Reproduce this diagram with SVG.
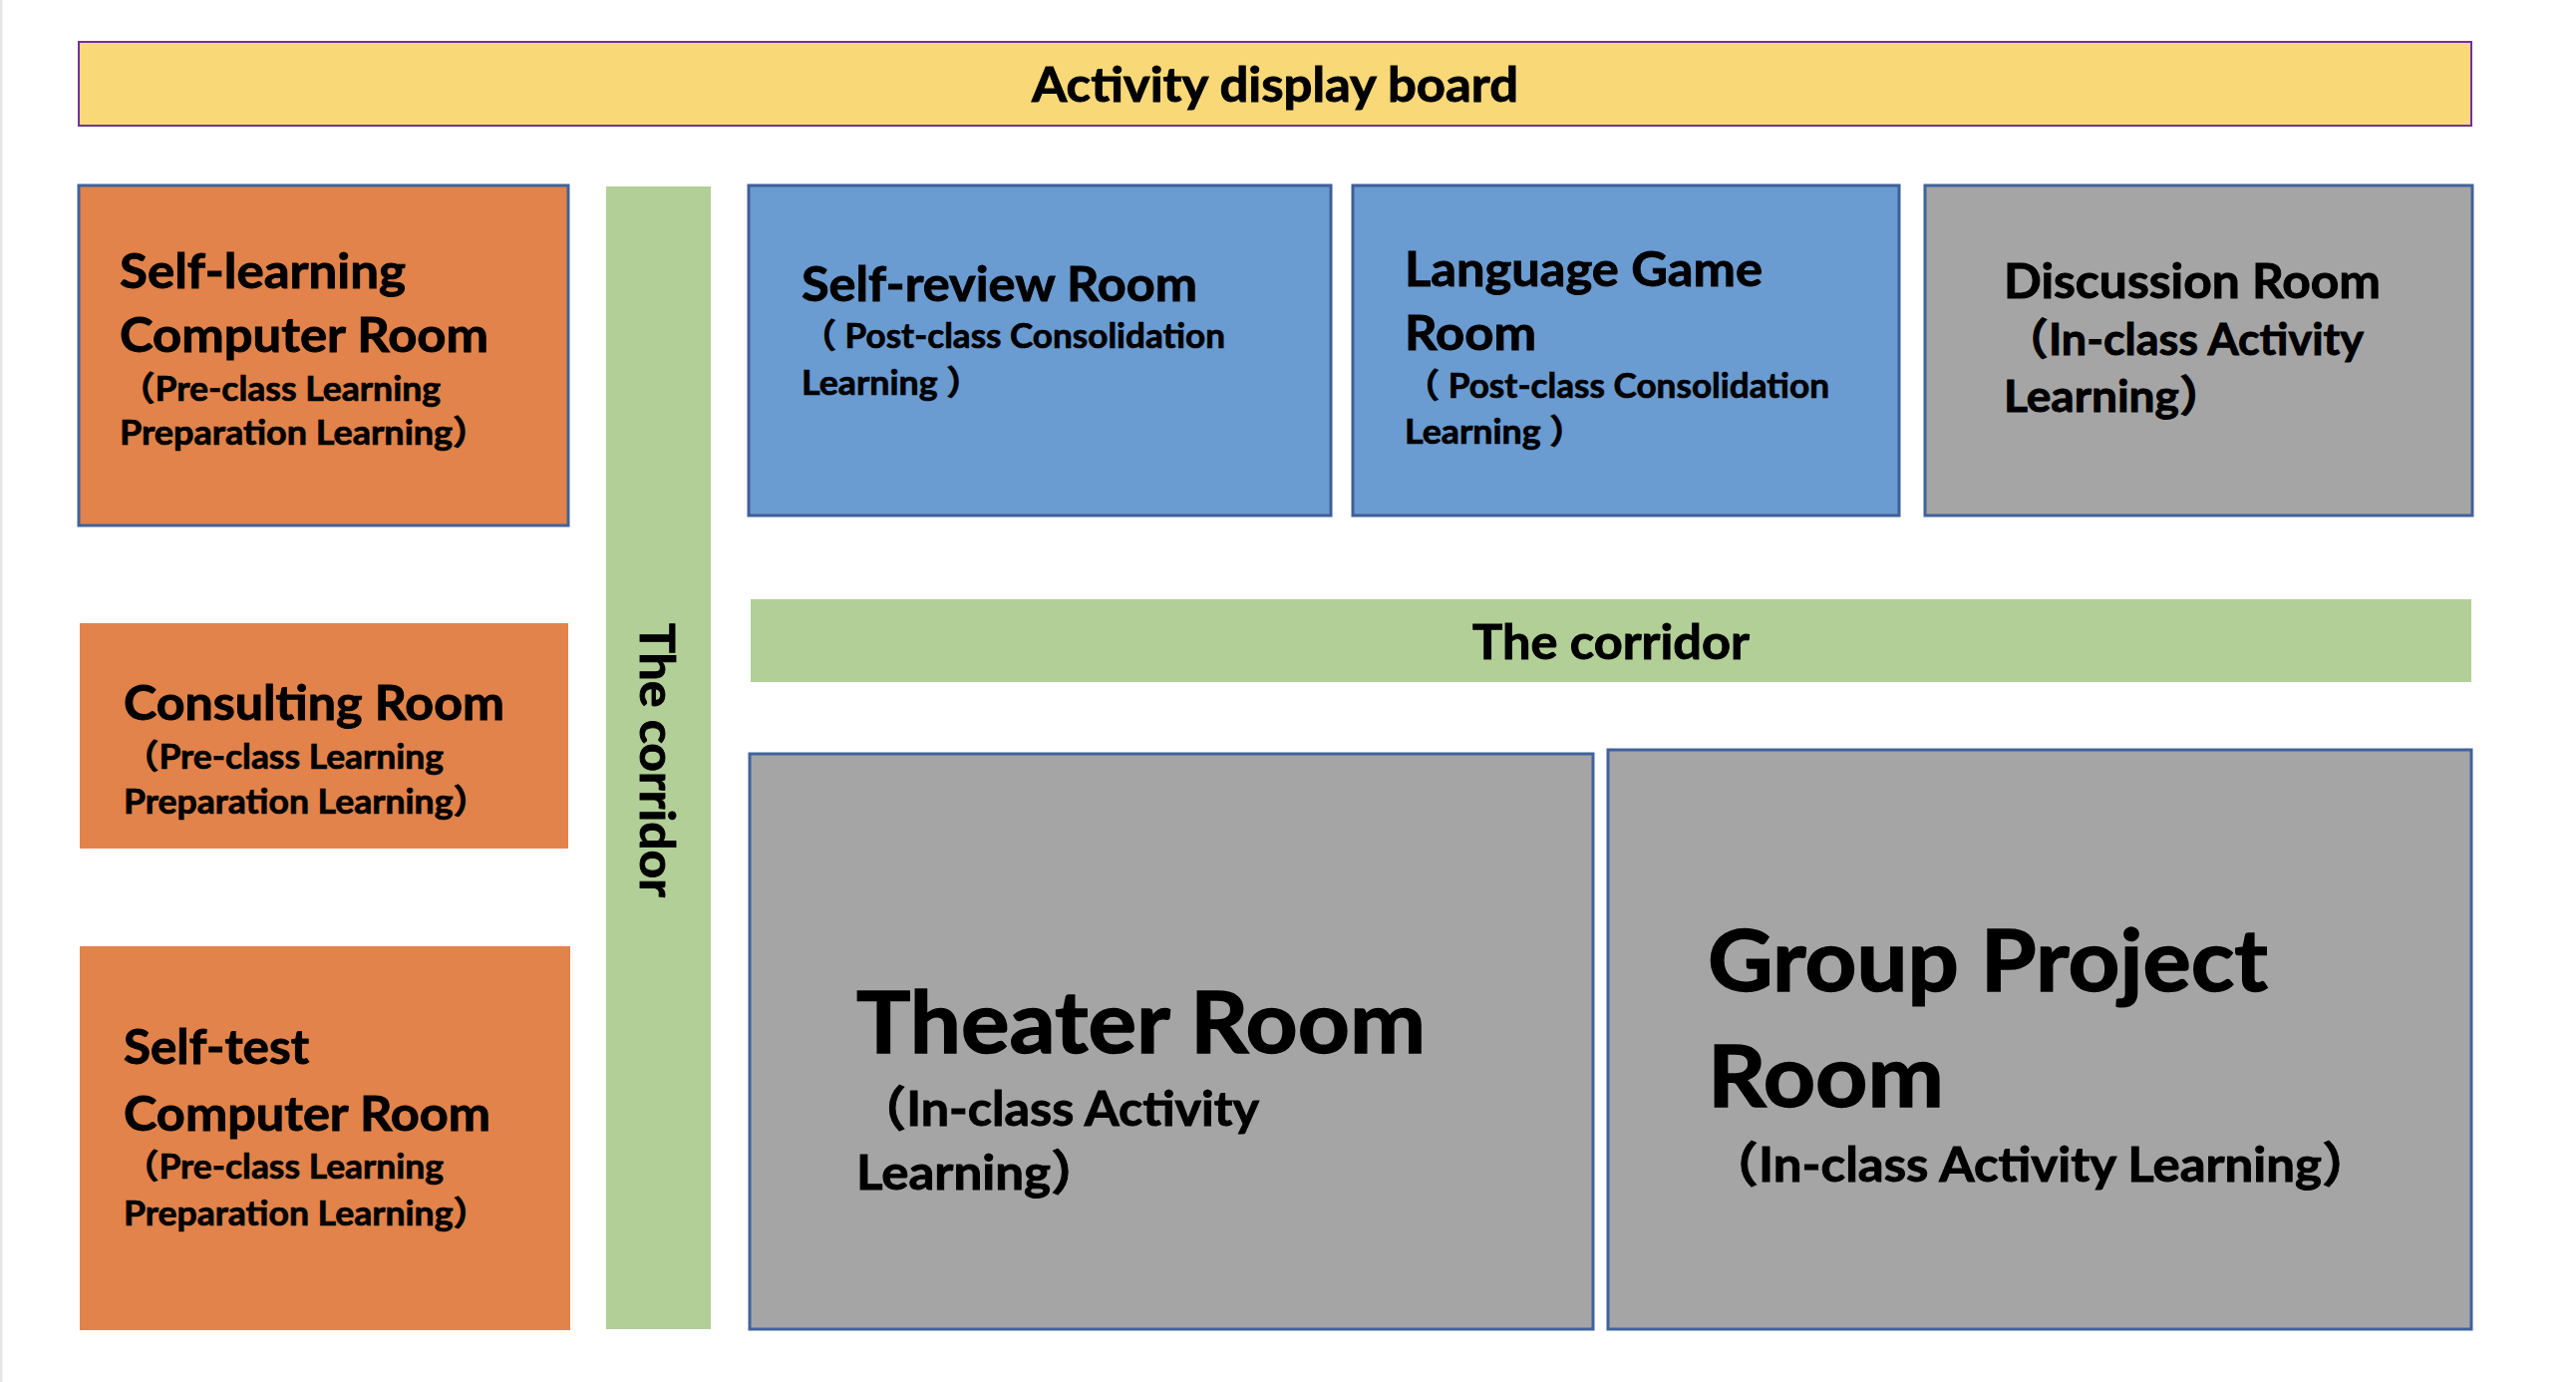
<svg xmlns="http://www.w3.org/2000/svg" width="2584" height="1386" viewBox="0 0 2584 1386">
<style>
.t{font-family:Lato,"Noto Sans CJK SC",sans-serif;font-weight:700;fill:#000;stroke:#000;stroke-width:0.9px}
.h1{font-size:48px}
.h2{font-size:33.6px;stroke-width:0.7px}
.h3{font-size:43.2px}
.big{font-size:86.4px;stroke-width:1.4px}
.orange{fill:#E1834A}
.bord{stroke:#41629C;stroke-width:3}
.blue{fill:#6A9BD1;stroke:#3F5F98;stroke-width:3}
.gray{fill:#A5A5A5;stroke:#41629C;stroke-width:3}
.green{fill:#B2CF97}
.board{fill:#F9D878;stroke:#7030A0;stroke-width:2}
</style>
<rect width="2584" height="1386" fill="#fff"/>
<rect x="0" y="0" width="2.5" height="1386" fill="#E6E6E6"/>

<g id="activity-board">
<rect class="board" x="79" y="42" width="2400" height="84"/>
<text class="t h1" x="1279" y="102" text-anchor="middle" textLength="488" lengthAdjust="spacingAndGlyphs">Activity display board</text>
</g>

<g id="self-learning-computer-room">
<rect class="orange bord" x="79" y="186" width="491" height="341"/>
<text class="t h1" x="120" y="289" textLength="287" lengthAdjust="spacingAndGlyphs">Self-learning</text>
<text class="t h1" x="120" y="353" textLength="370" lengthAdjust="spacingAndGlyphs">Computer Room</text>
<text class="t h2" x="120" y="402" textLength="322" lengthAdjust="spacingAndGlyphs">（Pre-class Learning</text>
<text class="t h2" x="120" y="446" textLength="370" lengthAdjust="spacingAndGlyphs">Preparation Learning）</text>
</g>

<g id="vertical-corridor">
<rect class="green" x="608" y="187" width="105" height="1146"/>
<text class="t h1" transform="translate(642,625) rotate(90)" x="0" y="0" textLength="275" lengthAdjust="spacingAndGlyphs">The corridor</text>
</g>

<g id="consulting-room">
<rect class="orange" x="80" y="625" width="490" height="226"/>
<text class="t h1" x="124" y="722" textLength="382" lengthAdjust="spacingAndGlyphs">Consulting Room</text>
<text class="t h2" x="124" y="771" textLength="321" lengthAdjust="spacingAndGlyphs">（Pre-class Learning</text>
<text class="t h2" x="124" y="816" textLength="366" lengthAdjust="spacingAndGlyphs">Preparation Learning）</text>
</g>

<g id="self-test-computer-room">
<rect class="orange" x="80" y="949" width="492" height="385"/>
<text class="t h1" x="124" y="1067" textLength="186" lengthAdjust="spacingAndGlyphs">Self-test</text>
<text class="t h1" x="124" y="1134" textLength="368" lengthAdjust="spacingAndGlyphs">Computer Room</text>
<text class="t h2" x="124" y="1182" textLength="321" lengthAdjust="spacingAndGlyphs">（Pre-class Learning</text>
<text class="t h2" x="124" y="1229" textLength="366" lengthAdjust="spacingAndGlyphs">Preparation Learning）</text>
</g>

<g id="self-review-room">
<rect class="blue" x="751" y="186" width="584" height="331"/>
<text class="t h1" x="804" y="302" textLength="397" lengthAdjust="spacingAndGlyphs">Self-review Room</text>
<text class="t h2" x="804" y="349" textLength="425" lengthAdjust="spacingAndGlyphs">（ Post-class Consolidation</text>
<text class="t h2" x="804" y="396" textLength="181" lengthAdjust="spacingAndGlyphs">Learning ）</text>
</g>

<g id="language-game-room">
<rect class="blue" x="1357" y="186" width="548" height="331"/>
<text class="t h1" x="1409" y="287" textLength="359" lengthAdjust="spacingAndGlyphs">Language Game</text>
<text class="t h1" x="1409" y="351" textLength="132" lengthAdjust="spacingAndGlyphs">Room</text>
<text class="t h2" x="1409" y="399" textLength="426" lengthAdjust="spacingAndGlyphs">（ Post-class Consolidation</text>
<text class="t h2" x="1409" y="445" textLength="181" lengthAdjust="spacingAndGlyphs">Learning ）</text>
</g>

<g id="discussion-room">
<rect class="gray" x="1931" y="186" width="549" height="331"/>
<text class="t h1" x="2010" y="299" textLength="378" lengthAdjust="spacingAndGlyphs">Discussion Room</text>
<text class="t h3" x="2010" y="356" textLength="361" lengthAdjust="spacingAndGlyphs">（In-class Activity</text>
<text class="t h3" x="2010" y="413" textLength="222" lengthAdjust="spacingAndGlyphs">Learning）</text>
</g>

<g id="horizontal-corridor">
<rect class="green" x="753" y="601" width="1726" height="83"/>
<text class="t h1" x="1616" y="661" text-anchor="middle" textLength="278" lengthAdjust="spacingAndGlyphs">The corridor</text>
</g>

<g id="theater-room">
<rect class="gray" x="752" y="756" width="846" height="577"/>
<text class="t big" x="859" y="1056" textLength="571" lengthAdjust="spacingAndGlyphs">Theater Room</text>
<text class="t h1" x="859" y="1129" textLength="404" lengthAdjust="spacingAndGlyphs">（In-class Activity</text>
<text class="t h1" x="859" y="1193" textLength="246" lengthAdjust="spacingAndGlyphs">Learning）</text>
</g>

<g id="group-project-room">
<rect class="gray" x="1613" y="752" width="866" height="581"/>
<text class="t big" x="1713" y="994" textLength="562" lengthAdjust="spacingAndGlyphs">Group Project</text>
<text class="t big" x="1713" y="1110" textLength="237" lengthAdjust="spacingAndGlyphs">Room</text>
<text class="t h1" x="1713" y="1185" textLength="667" lengthAdjust="spacingAndGlyphs">（In-class Activity Learning）</text>
</g>
</svg>
